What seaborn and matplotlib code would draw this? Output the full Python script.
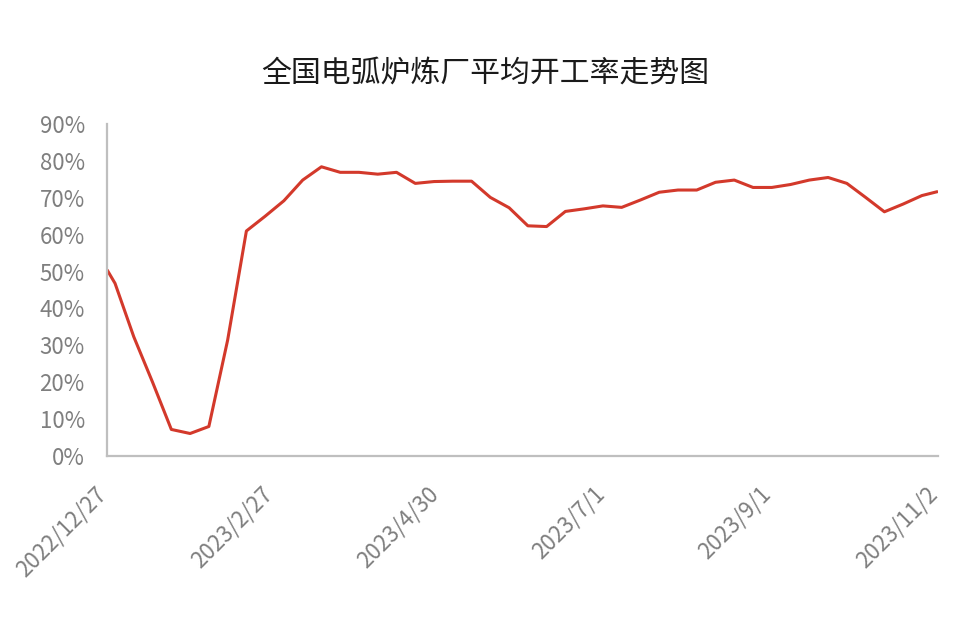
import matplotlib
matplotlib.use("Agg")
import matplotlib.pyplot as plt
import matplotlib.dates as mdates
from matplotlib.ticker import PercentFormatter, FuncFormatter
import matplotlib.transforms as mtransforms
import seaborn as sns
import pandas as pd

dates = [
    "2022-12-27", "2022-12-30", "2023-01-06", "2023-01-13", "2023-01-20", "2023-01-27",
    "2023-02-03", "2023-02-10", "2023-02-17", "2023-02-24", "2023-03-03", "2023-03-10",
    "2023-03-17", "2023-03-24", "2023-03-31", "2023-04-07", "2023-04-14", "2023-04-21",
    "2023-04-28", "2023-05-05", "2023-05-12", "2023-05-19", "2023-05-26", "2023-06-02",
    "2023-06-09", "2023-06-16", "2023-06-23", "2023-06-30", "2023-07-07", "2023-07-14",
    "2023-07-21", "2023-07-28", "2023-08-04", "2023-08-11", "2023-08-18", "2023-08-25",
    "2023-09-01", "2023-09-08", "2023-09-15", "2023-09-22", "2023-09-29", "2023-10-06",
    "2023-10-13", "2023-10-20", "2023-10-27", "2023-11-02",
]
rates = [
    50.5, 46.8, 32.3, 20.0, 7.2, 6.1, 8.0, 31.4, 61.0, 65.0,
    69.2, 74.8, 78.4, 76.9, 76.9, 76.4, 76.9, 73.9, 74.4, 74.5,
    74.5, 70.1, 67.3, 62.4, 62.2, 66.3, 67.0, 67.8, 67.4, 69.4,
    71.5, 72.1, 72.1, 74.2, 74.8, 72.8, 72.8, 73.6, 74.8, 75.5,
    73.9, 70.1, 66.2, 68.3, 70.6, 71.7,
]
tick_dates = ["2022-12-27", "2023-02-27", "2023-04-30", "2023-07-01", "2023-09-01", "2023-11-02"]
y_ticks = [0, 10, 20, 30, 40, 50, 60, 70, 80, 90]
title = "全国电弧炉炼厂平均开工率走势图"

sns.set_style("white")
plt.rcParams["font.family"] = ["Noto Sans CJK SC", "DejaVu Sans"]

df = pd.DataFrame({"date": pd.to_datetime(dates), "rate": rates})

fig = plt.figure(figsize=(9.79, 6.24), dpi=100)
ax = fig.add_axes([107 / 979, 1 - 456 / 624, (938 - 107) / 979, (456 - 124) / 624])

sns.lineplot(data=df, x="date", y="rate", ax=ax, color="#d3392b", linewidth=2.2,
             solid_joinstyle="round", solid_capstyle="butt")

ax.set_xlim(pd.Timestamp(tick_dates[0]), pd.Timestamp(tick_dates[-1]))
ax.set_ylim(0, 90)
ax.set_yticks(y_ticks)
ax.yaxis.set_major_formatter(PercentFormatter(100, decimals=0))
ax.set_xticks(pd.to_datetime(tick_dates))
ax.xaxis.set_major_formatter(FuncFormatter(
    lambda v, p: (lambda d: f"{d.year}/{d.month}/{d.day}")(mdates.num2date(v))))

ax.set_xlabel("")
ax.set_ylabel("")

gray = "#bfbfbf"
for s in ["top", "right"]:
    ax.spines[s].set_visible(False)
for s in ["left", "bottom"]:
    ax.spines[s].set_color(gray)
    ax.spines[s].set_linewidth(1.6)

ax.tick_params(axis="both", direction="in", length=5, width=1.3, color=gray,
               labelcolor="#7f7f7f", labelsize=16)
ax.tick_params(axis="y", pad=16)
ax.tick_params(axis="x", pad=19)

offset = mtransforms.ScaledTranslation(4 / 100, 0, fig.dpi_scale_trans)
for lab in ax.get_xticklabels():
    lab.set_rotation(45)
    lab.set_ha("right")
    lab.set_transform(lab.get_transform() + offset)

fig.text(485.5 / 979, 1 - 74 / 624, title, ha="center", va="center",
         fontsize=21.5, color="#1a1a1a")

fig.savefig("out.png", dpi=100, facecolor="white")
